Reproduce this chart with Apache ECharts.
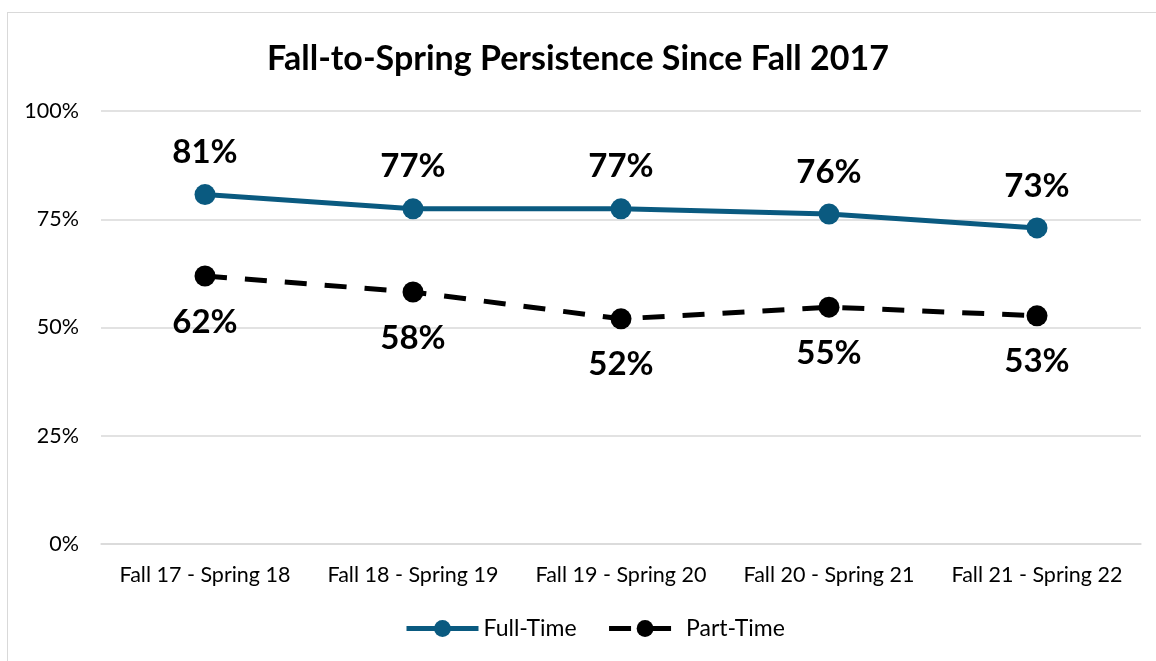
<!DOCTYPE html>
<html>
<head>
<meta charset="utf-8">
<script src="https://cdn.jsdelivr.net/npm/echarts@6/dist/echarts.min.js"></script>
<style>
  html, body { margin: 0; padding: 0; background: #fff; }
  #frame { position: absolute; left: 7px; top: 12px; width: 1160px; height: 660px; border: 1px solid #d9d9d9; box-sizing: border-box; }
  #chart { position: absolute; left: 0; top: 0; width: 1156px; height: 661px; }
</style>
</head>
<body>
<div id="frame"></div>
<div id="chart"></div>
<script>
// 数据
const categories = ['Fall 17 - Spring 18', 'Fall 18 - Spring 19', 'Fall 19 - Spring 20', 'Fall 20 - Spring 21', 'Fall 21 - Spring 22'];
const fullTime = [80.7, 77.4, 77.4, 76.2, 73.0];
const partTime = [61.9, 58.2, 52.0, 54.7, 52.7];
const fullLabels = ['81%', '77%', '77%', '76%', '73%'];
const partLabels = ['62%', '58%', '52%', '55%', '53%'];

const font = 'Lato, "Open Sans", sans-serif';
const chart = echarts.init(document.getElementById('chart'));

const option = {
  textStyle: { fontFamily: font },
  title: {
    text: 'Fall-to-Spring Persistence Since Fall 2017',
    left: 'center',
    top: 37,
    textStyle: { fontFamily: font, fontSize: 34, fontWeight: 'bold', color: '#000' }
  },
  legend: {
    bottom: 16,
    left: 399,
    itemWidth: 72,
    itemHeight: 21,
    itemGap: 30,
    textStyle: { fontFamily: font, fontSize: 23, color: '#000' },
    data: [
      { name: 'Full-Time', lineStyle: { width: 5 } },
      { name: 'Part-Time', lineStyle: { width: 5 } }
    ]
  },
  grid: { left: 101, right: 15, top: 111, bottom: 117 },
  xAxis: {
    type: 'category',
    data: categories,
    axisLine: { lineStyle: { color: '#d9d9d9', width: 1.5 } },
    axisTick: { show: false },
    axisLabel: { color: '#000', fontSize: 21.5, margin: 20, interval: 0, fontFamily: font }
  },
  yAxis: {
    type: 'value',
    min: 0,
    max: 100,
    interval: 25,
    axisLine: { show: false },
    axisTick: { show: false },
    axisLabel: { color: '#000', fontSize: 21.5, margin: 22, formatter: '{value}%', fontFamily: font },
    splitLine: { lineStyle: { color: '#d9d9d9', width: 1.5 } }
  },
  series: [
    {
      name: 'Full-Time',
      type: 'line',
      data: fullTime,
      symbol: 'circle',
      symbolSize: 21,
      itemStyle: { color: '#0a5a80' },
      lineStyle: { color: '#0a5a80', width: 5 },
      label: {
        show: true,
        position: 'top',
        distance: 15,
        fontSize: 33,
        fontWeight: 'bold',
        color: '#000',
        fontFamily: font,
        formatter: p => fullLabels[p.dataIndex]
      }
    },
    {
      name: 'Part-Time',
      type: 'line',
      data: partTime,
      symbol: 'circle',
      symbolSize: 21,
      itemStyle: { color: '#000' },
      lineStyle: { color: '#000', width: 5, type: [22, 18] },
      label: {
        show: true,
        position: 'bottom',
        distance: 19,
        fontSize: 33,
        fontWeight: 'bold',
        color: '#000',
        fontFamily: font,
        formatter: p => partLabels[p.dataIndex]
      }
    }
  ]
};

chart.setOption(option);
window.addEventListener('resize', () => chart.resize());
</script>
</body>
</html>
